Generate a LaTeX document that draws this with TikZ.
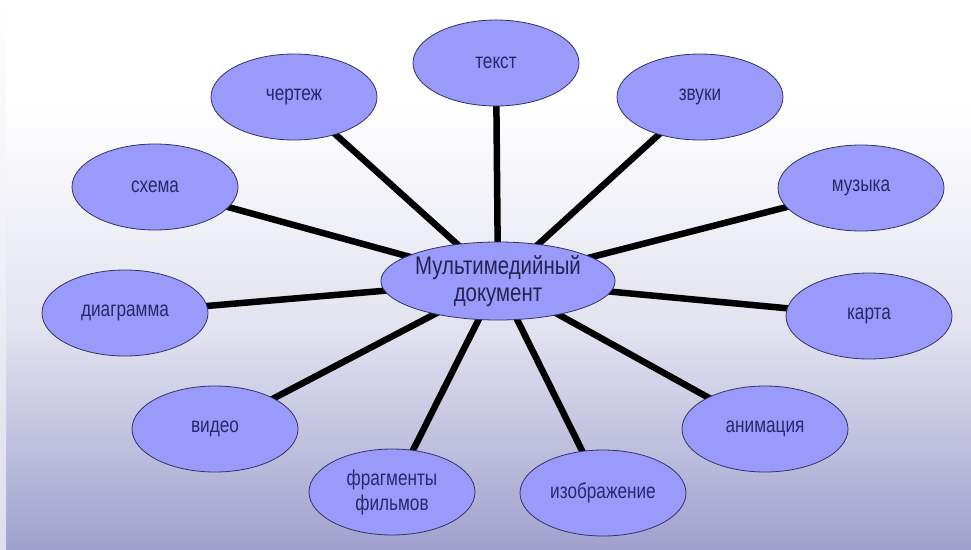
\documentclass[tikz,border=0pt]{standalone}
\usepackage{fontspec}
\setmainfont{Liberation Sans}[FakeStretch=0.8]
\usetikzlibrary{shapes.geometric,backgrounds}
\definecolor{bubble}{RGB}{154,154,250}
\definecolor{rimc}{RGB}{50,50,100}
\definecolor{txtc}{RGB}{40,40,110}
\definecolor{hubtxt}{RGB}{35,35,80}
\definecolor{bgmid}{RGB}{226,226,240}
\definecolor{bgbot}{RGB}{160,160,206}
\tikzset{
  bub/.style={ellipse, fill=bubble, draw=rimc, line width=0.8pt, minimum width=166pt, minimum height=86pt, inner sep=0pt, text=txtc, font=\fontsize{21.5}{25}\selectfont, align=center},
  hub/.style={bub, minimum width=168pt, minimum height=78pt, text=hubtxt, font=\fontsize{25.5}{27}\selectfont},
  spoke/.style={line width=6.5pt, black}
}
\begin{document}
\begin{tikzpicture}[x=1pt,y=-1pt]
\useasboundingbox (0,0) rectangle (971,549);
\node[hub] (c) at (498,281) {Мультимедийный\\документ};
\node[bub] (t) at (496,63) {текст};
\node[bub] (ch) at (294,97) {чертеж};
\node[bub] (zv) at (700,97) {звуки};
\node[bub] (sx) at (155,187) {схема};
\node[bub] (mu) at (861,188) {музыка};
\node[bub] (di) at (125,313) {диаграмма};
\node[bub] (ka) at (869,316) {карта};
\node[bub] (vi) at (215,429) {видео};
\node[bub] (an) at (765,429) {анимация};
\node[bub] (fr) at (392,492) {фрагменты\\фильмов};
\node[bub] (iz) at (603,493) {изображение};
\begin{scope}[on background layer]
\fill[white] (0,0) rectangle (971,101);
\shade[top color=white, bottom color=bgmid] (0,100) rectangle (971,331);
\shade[top color=bgmid, bottom color=bgbot] (0,330) rectangle (971,549);
\shade[top color=white, bottom color=white!65!bgbot] (0,0) rectangle (6,549);
\foreach \n in {t,ch,zv,sx,mu,di,ka,vi,an,fr,iz}
  \draw[spoke] (c.center) -- (\n.center);
\end{scope}
\end{tikzpicture}
\end{document}
